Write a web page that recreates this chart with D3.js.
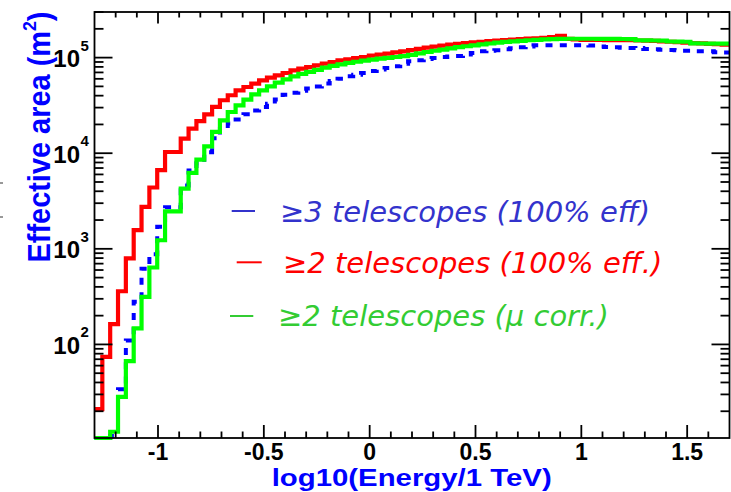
<!DOCTYPE html>
<html><head><meta charset="utf-8">
<script src="https://cdn.jsdelivr.net/npm/d3@7"></script>
<style>body{margin:0;background:#fff}svg{display:block}</style>
</head><body>
<svg id="c" width="731" height="492"></svg>
<script>
// ---- data ----
const binStart = -1.3;          // log10(E/TeV) lower edge of first bin
const binWidth = 1 / 27;        // bin width in log10(E/TeV)
const red = [21, 74, 163, 360, 793, 1570, 2740, 4380, 6640, 10300,
  10300, 14200, 18100, 21700, 25500, 30500, 35800, 40400, 45500, 49300,
  53500, 57900, 61800, 65300, 69000, 73700, 76700, 79700, 83000, 86500,
  89900, 93700, 96000, 99000, 101500, 105000, 107500, 110000, 113600, 116300,
  120000, 123500, 127000, 130000, 133500, 136500, 139000, 141500, 144000, 146000,
  148500, 150500, 152500, 154500, 156000, 158000, 159500, 161000, 164000, 169000,
  157000, 155000, 153500, 153000, 153000, 152500, 152500, 152000, 152000, 151000,
  150500, 149500, 148000, 146500, 145000, 143500, 142000, 141000, 139500, 138500,
  137000];
const green = [0, 0, 12.2, 28.3, 66.8, 147, 315, 638, 1230, 2470,
  2470, 4270, 6220, 8590, 11800, 16700, 22100, 27000, 31700, 36400,
  41300, 45500, 50100, 54800, 59300, 63700, 67500, 71000, 74500, 78500,
  82000, 85000, 88000, 90500, 93000, 95500, 97500, 99500, 101500, 103500,
  107000, 111000, 114500, 118000, 121500, 125000, 128500, 131500, 134500, 137500,
  140500, 143500, 146000, 148000, 150000, 152000, 153500, 155000, 156000, 157000,
  157500, 157500, 157500, 157500, 157000, 157000, 157000, 156500, 156000, 152000,
  151500, 151000, 150500, 147500, 147000, 146500, 141000, 140500, 140000, 140000,
  140000];
const blue = [0, 0, 11, 34, 110, 280, 620, 880, 1700, 2720,
  2720, 4600, 6600, 7850, 10240, 14300, 18000, 20500, 22500, 25500,
  28000, 30500, 33000, 36500, 41000, 43000, 45000, 47400, 50000, 53500,
  57000, 60000, 63700, 66000, 69000, 72500, 75000, 78000, 81000, 86500,
  91400, 94000, 96500, 99000, 101400, 103000, 104000, 108000, 112000, 116400,
  118000, 119200, 122100, 125000, 128200, 131000, 134500, 134500, 134500, 134500,
  134500, 134500, 134500, 133500, 131000, 129200, 128000, 127100, 126000, 125900,
  123000, 122100, 120500, 120000, 119200, 118000, 116400, 116400, 116400, 114000,
  112800];
const xTickValues = [-1, -0.5, 0, 0.5, 1, 1.5];
const xTickLabels = ["-1", "-0.5", "0", "0.5", "1", "1.5"];
const yDecadeValues = [1e2, 1e3, 1e4, 1e5];
const yDecadeExponents = ["2", "3", "4", "5"];
const legendLabels = ["\u22653 telescopes (100% eff)", "\u22652 telescopes (100% eff.)", "\u22652 telescopes (\u03bc corr.)"];
const xTitle = "log10(Energy/1 TeV)";
const yTitle = "Effective area (m";

// ---- layout ----
const svg = d3.select('#c');
const F = {l: 94.5, r: 729.5, t: 12, b: 438};
const x = d3.scaleLinear().domain([-1.3, 1.7]).range([F.l, F.r]);
const y = d3.scaleLog().domain([10.5, 3e5]).range([F.b, F.t]).clamp(true);

svg.append('rect').attr('width', 731).attr('height', 492).attr('fill', '#fff');

svg.append('clipPath').attr('id', 'clip').append('rect')
  .attr('x', F.l - 2).attr('y', F.t).attr('width', F.r - F.l + 2).attr('height', F.b - F.t + 2);

function stepPts(vals) {
  const pts = [];
  vals.forEach((v, i) => {
    const x0 = x(binStart + i * binWidth), x1 = x(binStart + (i + 1) * binWidth);
    const yy = y(v);
    pts.push([x0, yy], [x1, yy]);
  });
  return pts;
}
const line = d3.line();
const g = svg.append('g').attr('clip-path', 'url(#clip)');
g.append('path').attr('d', line(stepPts(red))).attr('fill', 'none')
  .attr('stroke', '#ff0000').attr('stroke-width', 4.2).attr('stroke-linejoin', 'miter');
g.append('path').attr('d', line(stepPts(blue))).attr('fill', 'none')
  .attr('stroke', '#0000ff').attr('stroke-width', 4).attr('stroke-dasharray', '7 7.3');
g.append('path').attr('d', line(stepPts(green))).attr('fill', 'none')
  .attr('stroke', '#00ff00').attr('stroke-width', 4.2).attr('stroke-linejoin', 'miter');

// ---- frame & ticks ----
const ax = svg.append('g').attr('stroke', '#000').attr('stroke-width', 1.8);
ax.append('rect').attr('x', F.l).attr('y', F.t).attr('width', F.r - F.l).attr('height', F.b - F.t)
  .attr('fill', 'none');
const xt = d3.range(-12, 17).map(d => d / 10);
xt.forEach(v => {
  const major = Math.abs(v * 2 - Math.round(v * 2)) < 1e-6;
  const px = x(v);
  ax.append('line').attr('x1', px).attr('x2', px).attr('y1', F.b).attr('y2', F.b - (major ? 13 : 6.5));
  ax.append('line').attr('x1', px).attr('x2', px).attr('y1', F.t).attr('y2', F.t + (major ? 11.5 : 5.5));
});
const yt = y.ticks(10).filter(v => v > 10.5 && v <= 3e5);
yt.forEach(v => {
  const lg = Math.log10(v);
  const major = Math.abs(lg - Math.round(lg)) < 1e-6;
  const py = y(v);
  ax.append('line').attr('x1', F.l).attr('x2', F.l + (major ? 18 : 9)).attr('y1', py).attr('y2', py);
  ax.append('line').attr('x1', F.r).attr('x2', F.r - (major ? 18 : 9)).attr('y1', py).attr('y2', py);
});

// ---- tick labels ----
const lab = svg.append('g').attr('font-family', 'Liberation Sans, Arial, sans-serif')
  .attr('font-weight', 'bold').attr('fill', '#000');
xTickValues.forEach((v, i) => {
  lab.append('text').attr('x', x(v)).attr('y', 459.5).attr('text-anchor', 'middle')
    .attr('font-size', 23).text(xTickLabels[i]);
});
yDecadeValues.forEach((v, i) => {
  const py = y(v);
  lab.append('text').attr('x', 80).attr('y', py + 9.5).attr('text-anchor', 'end')
    .attr('font-size', 24).text('10');
  lab.append('text').attr('x', 80.5).attr('y', py - 7).attr('font-size', 15).text(yDecadeExponents[i]);
});

// ---- axis titles ----
svg.append('text').attr('x', 411.7).attr('y', 485.5).attr('text-anchor', 'middle')
  .attr('font-family', 'Liberation Sans, Arial, sans-serif').attr('font-weight', 'bold')
  .attr('font-size', 23.5).attr('fill', '#0000ff')
  .attr('textLength', 280).attr('lengthAdjust', 'spacingAndGlyphs').text(xTitle);

const yt1 = svg.append('text').attr('transform', 'translate(50,137) rotate(-90)')
  .attr('text-anchor', 'middle')
  .attr('font-family', 'Liberation Sans, Arial, sans-serif').attr('font-weight', 'bold')
  .attr('font-size', 31).attr('fill', '#0000ff')
  .attr('textLength', 251).attr('lengthAdjust', 'spacingAndGlyphs');
yt1.append('tspan').text(yTitle);
yt1.append('tspan').attr('font-size', 19).attr('dy', -14).text('2');
yt1.append('tspan').attr('dy', 14).text(')');

// ---- legend ----
const legColors = ['#3333cc', '#ff0000', '#33cc33'];
const legLine = [[231.7, 255, 211], [236.7, 261.7, 262.3], [230, 253.3, 316]];
const legText = [[280, 221.7], [283, 272.7], [278, 326]];
legendLabels.forEach((t, i) => {
  svg.append('line').attr('x1', legLine[i][0]).attr('x2', legLine[i][1])
    .attr('y1', legLine[i][2]).attr('y2', legLine[i][2])
    .attr('stroke', legColors[i]).attr('stroke-width', 2);
  svg.append('text').attr('x', legText[i][0]).attr('y', legText[i][1])
    .attr('font-family', 'DejaVu Sans, Verdana, sans-serif').attr('font-style', 'italic')
    .attr('font-size', 29).attr('fill', legColors[i]).text(t);
});

// small stray marks at left edge
[183, 217].forEach(py => svg.append('line').attr('x1', 0).attr('x2', 3).attr('y1', py).attr('y2', py)
  .attr('stroke', '#333').attr('stroke-width', 1));
</script>
</body></html>
